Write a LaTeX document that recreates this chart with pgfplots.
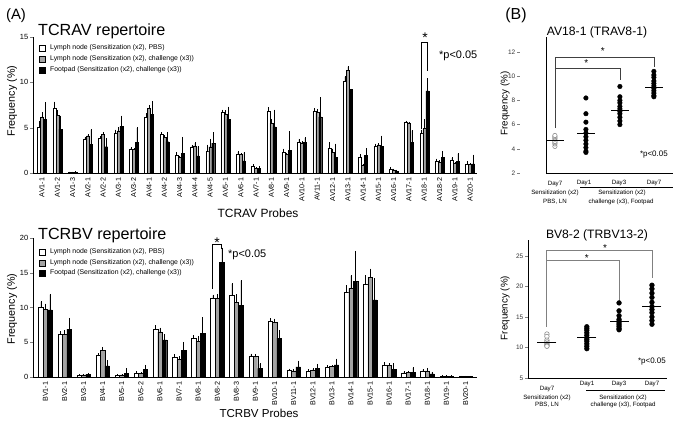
\documentclass[border=0pt]{standalone}
\usepackage{fontspec}
\setmainfont{Liberation Sans}
\usepackage{pgfplots}
\usepackage{pgfplotstable}
\pgfplotsset{compat=1.18}
\definecolor{bargray}{HTML}{A3A3A3}
\definecolor{ptgray}{HTML}{8C8C8C}
\newcommand\fs[1]{\fontsize{#1}{#1}\selectfont}

% TCRAV probes: mean (%) and upper error for the three groups
\pgfplotstableread{
x w we g ge b be
0 5.0 0.7 6.2 0.4 5.95 1.8
1 7.1 0.7 6.35 0.5 4.85 1.4
2 0.05 0.02 0.05 0.02 0.1 0.05
3 3.7 0.2 4.1 0.1 3.15 1.6
4 3.8 0.2 4.3 0.1 2.9 0.9
5 4.4 0.3 4.65 0.3 5.15 1.1
6 2.65 0.1 2.6 0.05 3.35 1.6
7 6.1 0.4 7.1 0.3 6.45 1.4
8 4.3 0.1 3.9 0.2 3.45 1.0
9 2.0 0.2 1.7 0.1 2.2 1.7
10 2.8 0.2 3.0 0.3 1.9 1.0
11 2.45 0.6 2.9 0.8 3.3 1.1
12 6.7 0.2 6.45 0.4 5.95 1.3
13 2.1 0.2 2.05 0.1 1.35 0.9
14 0.7 0.2 0.5 0.1 0.5 0.2
15 6.85 0.3 5.5 0.4 5.1 1.8
16 2.3 0.3 2.05 0.1 2.5 2.0
17 3.4 0.3 3.3 0.1 3.35 0.5
18 6.85 0.2 6.7 0.3 6.2 2.1
19 2.7 0.6 2.3 0.3 1.75 1.4
20 10.1 0.5 11.3 0.4 9.2 0.0
21 1.7 0.3 0.9 0.05 1.95 0.7
22 2.95 0.2 3.1 0.1 2.95 1.1
23 0.4 0.2 0.35 0.05 0.2 0.1
24 5.6 0.1 5.5 0.1 3.4 1.25
25 4.4 0.3 4.9 0.95 9.07 1.3
26 1.3 0.2 1.15 0.2 1.75 0.6
27 1.45 0.2 1.05 0.1 1.25 0.85
28 1.0 0.2 0.95 0.05 1.0 0.95
}\avdata

% TCRBV probes
\pgfplotstableread{
x w we g ge b be
0 10.0 0.8 9.75 0.7 9.65 2.2
1 6.1 0.4 6.1 0.5 6.9 1.5
2 0.25 0.05 0.3 0.05 0.4 0.1
3 3.15 0.2 3.85 0.4 1.6 0.7
4 0.3 0.05 0.3 0.05 0.55 0.6
5 0.55 0.2 0.5 0.05 1.15 0.5
6 6.85 0.5 6.5 0.5 5.35 0.7
7 2.9 0.3 2.5 0.4 3.85 1.1
8 5.6 0.3 5.15 0.6 6.3 2.2
9 11.35 0.4 11.35 0.5 16.5 2.0
10 11.8 1.6 10.75 1.05 10.35 3.5
11 3.05 0.2 3.0 0.2 1.25 0.6
12 8.05 0.3 7.9 0.4 5.6 1.05
13 0.95 0.15 0.9 0.1 1.45 0.8
14 0.85 0.2 1.0 0.15 1.2 0.6
15 1.45 0.15 1.5 0.1 1.75 0.8
16 12.2 0.9 12.75 1.8 13.75 4.3
17 13.35 1.2 14.35 1.15 11.1 3.0
18 1.75 0.3 1.65 0.25 1.1 0.8
19 0.55 0.2 0.7 0.1 0.65 0.65
20 0.8 0.25 0.9 0.3 0.45 0.2
21 0.1 0.02 0.1 0.02 0.1 0.02
22 0.05 0.02 0.05 0.02 0.05 0.02
}\bvdata

% panel B, AV18-1: single mice
\pgfplotstableread{
x y
0 4.2
0 4.4
0 4.5
0 4.6
0 4.8
0 4.9
0 5.0
0 5.1
}\avpbs
\pgfplotstableread{
x y
0.94 8.2
0.94 6.9
0.94 6.2
0.94 5.6
0.94 5.3
0.94 5.0
0.94 4.7
0.94 4.4
0.94 4.1
0.94 3.8
0.94 3.7
1.97 9.15
1.97 8.3
1.97 8.0
1.97 7.8
1.97 7.5
1.97 7.3
1.97 7.1
1.97 6.9
1.97 6.6
1.97 6.3
1.97 6.0
3 10.4
3 10.1
3 9.9
3 9.6
3 9.4
3 9.2
3 9.0
3 8.8
3 8.6
3 8.4
3 8.3
}\avchal
\pgfplotstableread{
x y
0 4.65
0.94 5.3
1.97 7.2
3 9.1
}\avmean

% panel B, BV8-2: single mice
\pgfplotstableread{
x y
0 12.2
0 11.8
0 11.2
0 10.9
0 10.6
0 10.4
0 10.3
0 10.2
}\bvpbs
\pgfplotstableread{
x y
1.14 13.4
1.14 13.1
1.14 12.8
1.14 12.4
1.14 12.0
1.14 11.6
1.14 11.3
1.14 11.0
1.14 10.6
1.14 10.2
1.14 9.8
2.06 17.3
2.06 16.0
2.06 15.2
2.06 14.6
2.06 14.3
2.06 14.0
2.06 13.7
2.06 13.4
2.06 13.1
2.06 12.9
3 20.2
3 19.6
3 18.9
3 18.2
3 17.4
3 16.7
3 16.2
3 15.7
3 15.0
3 14.4
3 13.8
}\bvchal
\pgfplotstableread{
x y
0 10.85
1.14 11.6
2.06 14.2
3 16.65
}\bvmean

\begin{document}
\begin{tikzpicture}[x=1bp,y=1bp]
\useasboundingbox (0,0) rectangle (674,427);
\pgfplotsset{
  repbars/.style={
    scale only axis, clip=false,
    axis x line=bottom, axis y line=left,
    axis line style={-, line width=0.6pt},
    ybar=0pt,
    tick align=outside, major tick length=3bp,
    major x tick style={draw=none},
    yticklabel style={font=\fs{7.5}, inner sep=1.5bp},
    xticklabel style={font=\fs{7.2}, rotate=90, anchor=east, inner sep=1.5bp},
    /pgf/number format/assume math mode=true,
    error bars/y dir=plus, error bars/y explicit,
    error bars/error bar style={line width=0.45pt, black},
    error bars/error mark options={line width=0.45pt, black, mark size=0.7bp},
  },
  dotplot/.style={
    scale only axis, clip=false,
    axis x line=bottom, axis y line=left,
    axis line style={-, line width=0.6pt},
    xtick=\empty,
    tick align=outside, major tick length=3bp,
    yticklabel style={font=\fs{6.5}, text=black!80, inner sep=1.5bp},
    /pgf/number format/assume math mode=true,
  },
}

% ---------- (A) TCRAV ----------
\begin{axis}[repbars, at={(33bp,254bp)}, anchor=south west,
  width=444bp, height=136bp,
  xmin=-0.59, xmax=28.45, ymin=0, ymax=15,
  ytick={0,5,10,15}, bar width=3bp,
  xtick={0,...,28},
  xticklabels={AV1-1,AV1-2,AV1-3,AV2-1,AV2-2,AV3-1,AV3-2,AV4-1,AV4-2,AV4-3,AV4-4,AV4-5,AV5-1,AV6-1,AV7-1,AV8-1,AV9-1,AV10-1,AV11-1,AV12-1,AV13-1,AV14-1,AV15-1,AV16-1,AV17-1,AV18-1,AV18-2,AV19-1,AV20-1},
]
\addplot[fill=white, draw=black, line width=0.4pt] table[x=x, y=w, y error=we] {\avdata};
\addplot[fill=bargray, draw=black, line width=0.4pt] table[x=x, y=g, y error=ge] {\avdata};
\addplot[fill=black, draw=black, line width=0.4pt] table[x=x, y=b, y error=be] {\avdata};
\draw[line width=1pt] ([xshift=-3bp]axis cs:25,4.8) -- ([xshift=-3bp]axis cs:25,14.4)
  -- ([xshift=3bp]axis cs:25,14.4) -- ([xshift=3bp]axis cs:25,11.2);
\end{axis}

% ---------- (A) TCRBV ----------
\begin{axis}[repbars, at={(33bp,50bp)}, anchor=south west,
  width=444bp, height=139bp,
  xmin=-0.65, xmax=22.6, ymin=0, ymax=20,
  ytick={0,5,10,15,20}, bar width=4.5bp,
  xtick={0,...,22},
  xticklabels={BV1-1,BV2-1,BV3-1,BV4-1,BV5-1,BV5-2,BV6-1,BV7-1,BV8-1,BV8-2,BV8-3,BV9-1,BV10-1,BV11-1,BV12-1,BV13-1,BV14-1,BV15-1,BV16-1,BV17-1,BV18-1,BV19-1,BV20-1},
]
\addplot[fill=white, draw=black, line width=0.4pt] table[x=x, y=w, y error=we] {\bvdata};
\addplot[fill=bargray, draw=black, line width=0.4pt] table[x=x, y=g, y error=ge] {\bvdata};
\addplot[fill=black, draw=black, line width=0.4pt] table[x=x, y=b, y error=be] {\bvdata};
\draw[line width=1pt] ([xshift=-4.5bp]axis cs:9,12.7) -- ([xshift=-4.5bp]axis cs:9,19.0)
  -- ([xshift=4.5bp]axis cs:9,19.0) -- ([xshift=4.5bp]axis cs:9,18.4);
\end{axis}

% ---------- (B) AV18-1 ----------
\begin{axis}[dotplot, at={(546bp,254bp)}, anchor=south west,
  width=127bp, height=136bp,
  xmin=-0.27, xmax=3.58, ymin=2, ymax=13.24,
  ytick={2,4,...,12},
  ytick style={xshift=-26bp, line width=0.6pt},
  yticklabel style={xshift=-26bp},
]
\draw[black!75, line width=0.6pt] (axis cs:0,5.7) -- (axis cs:0,11.6) -- (axis cs:3,11.6) -- (axis cs:3,10.8);
\draw[black!75, line width=0.6pt] (axis cs:0,10.65) -- (axis cs:1.97,10.65) -- (axis cs:1.97,9.7);
\addplot[only marks, mark=*, mark size=2.2bp, mark options={draw=ptgray, fill=white, line width=0.6pt}] table[x=x, y=y] {\avpbs};
\addplot[only marks, mark=*, mark size=2.3bp, black] table[x=x, y=y] {\avchal};
\addplot[only marks, mark=-, mark size=9bp, mark options={line width=1.1pt, black}] table[x=x, y=y] {\avmean};
\node[font=\fs{10}] at (axis cs:1.45,12.05) {*};
\node[font=\fs{10}] at (axis cs:0.95,11.05) {*};
\node[font=\fs{8}] at (axis cs:3.0,3.5) {*p<0.05};
\end{axis}

% ---------- (B) BV8-2 ----------
\begin{axis}[dotplot, at={(528bp,49bp)}, anchor=south west,
  width=139bp, height=138bp,
  xmin=-0.54, xmax=3.43, ymin=5, ymax=27.6,
  ytick={5,10,...,25},
]
\draw[gray, line width=0.9pt] (axis cs:0,13.4) -- (axis cs:0,25.9);
\draw[gray, line width=0.6pt] (axis cs:0,25.9) -- (axis cs:3,25.9) -- (axis cs:3,21.3);
\draw[gray, line width=0.6pt] (axis cs:0,24.3) -- (axis cs:2.06,24.3) -- (axis cs:2.06,17.5);
\addplot[only marks, mark=*, mark size=2.3bp, mark options={draw=ptgray, fill=white, line width=0.6pt}] table[x=x, y=y] {\bvpbs};
\addplot[only marks, mark=*, mark size=2.4bp, black] table[x=x, y=y] {\bvchal};
\addplot[only marks, mark=-, mark size=9.5bp, mark options={line width=1.1pt, black}] table[x=x, y=y] {\bvmean};
\node[font=\fs{10}] at (axis cs:1.66,26.3) {*};
\node[font=\fs{10}] at (axis cs:1.14,24.6) {*};
\node[font=\fs{8}] at (axis cs:3.0,7.7) {*p<0.05};
\end{axis}

% ---------- labels (A) ----------
\node[font=\fs{15}] at (16,411) {(A)};
\node[font=\fs{16.2}, anchor=west, inner sep=0] at (38,396) {TCRAV repertoire};
\node[font=\fs{16.2}, anchor=west, inner sep=0] at (38,192) {TCRBV repertoire};
\node[rotate=90, font=\fs{10.8}] at (12,326) {Frequency (\%)};
\node[rotate=90, font=\fs{10.8}] at (12,118) {Frequency (\%)};
\node[font=\fs{12}] at (258,214) {TCRAV Probes};
\node[font=\fs{11.6}] at (259,14) {TCRBV Probes};
\node[font=\fs{11}, anchor=west, inner sep=0] at (439,371) {*p<0.05};
\node[font=\fs{11}, anchor=west, inner sep=0] at (228,172) {*p<0.05};
\node[font=\fs{14}] at (425,389) {*};
\node[font=\fs{14}] at (217,184) {*};

% legends
\foreach \yy/\cc/\tt in {379/white/{Lymph node (Sensitization (x2), PBS)},
                          368/bargray/{Lymph node (Sensitization (x2), challenge (x3))},
                          357/black/{Footpad (Sensitization (x2), challenge (x3))}}{
  \draw[fill=\cc, line width=0.4pt] (39,\yy-3) rectangle (45,\yy+3);
  \node[anchor=west, font=\fs{6.9}, inner sep=0] at (50,\yy) {\tt};
}
\foreach \yy/\cc/\tt in {175/white/{Lymph node (Sensitization (x2), PBS)},
                          164/bargray/{Lymph node (Sensitization (x2), challenge (x3))},
                          154/black/{Footpad (Sensitization (x2), challenge (x3))}}{
  \draw[fill=\cc, line width=0.4pt] (39,\yy-3) rectangle (45,\yy+3);
  \node[anchor=west, font=\fs{6.9}, inner sep=0] at (50,\yy) {\tt};
}

% ---------- labels (B) ----------
\node[font=\fs{16}] at (516,412) {(B)};
\node[font=\fs{12.2}] at (597,395) {AV18-1 (TRAV8-1)};
\node[font=\fs{12.2}] at (597,192) {BV8-2 (TRBV13-2)};
\node[rotate=90, font=\fs{9.8}] at (505,323.5) {Frequency (\%)};
\node[rotate=90, font=\fs{9.8}] at (505,119) {Frequency (\%)};

\begin{scope}[every node/.style={font=\fs{6.2}, inner sep=0}]
\node at (555,242.7) {Day7};
\node at (555,233.7) {Sensitization (x2)};
\node at (555,225.3) {PBS, LN};
\node at (584,244.3) {Day1};
\node at (619,244.3) {Day3};
\node at (654,244.3) {Day7};
\draw[line width=0.6pt] (580,239.3) -- (673,239.3);
\node at (622,233.7) {Sensitization (x2)};
\node at (621,225.3) {challenge (x3), Footpad};

\node at (547,38) {Day7};
\node at (547,29.3) {Sensitization (x2)};
\node at (547,22) {PBS, LN};
\node at (587,43) {Day1};
\node at (619,43) {Day3};
\node at (652,43) {Day7};
\draw[line width=0.6pt] (586,37) -- (665,37);
\node at (623,29.3) {Sensitization (x2)};
\node at (623,22) {challenge (x3), Footpad};
\end{scope}
\end{tikzpicture}
\end{document}
